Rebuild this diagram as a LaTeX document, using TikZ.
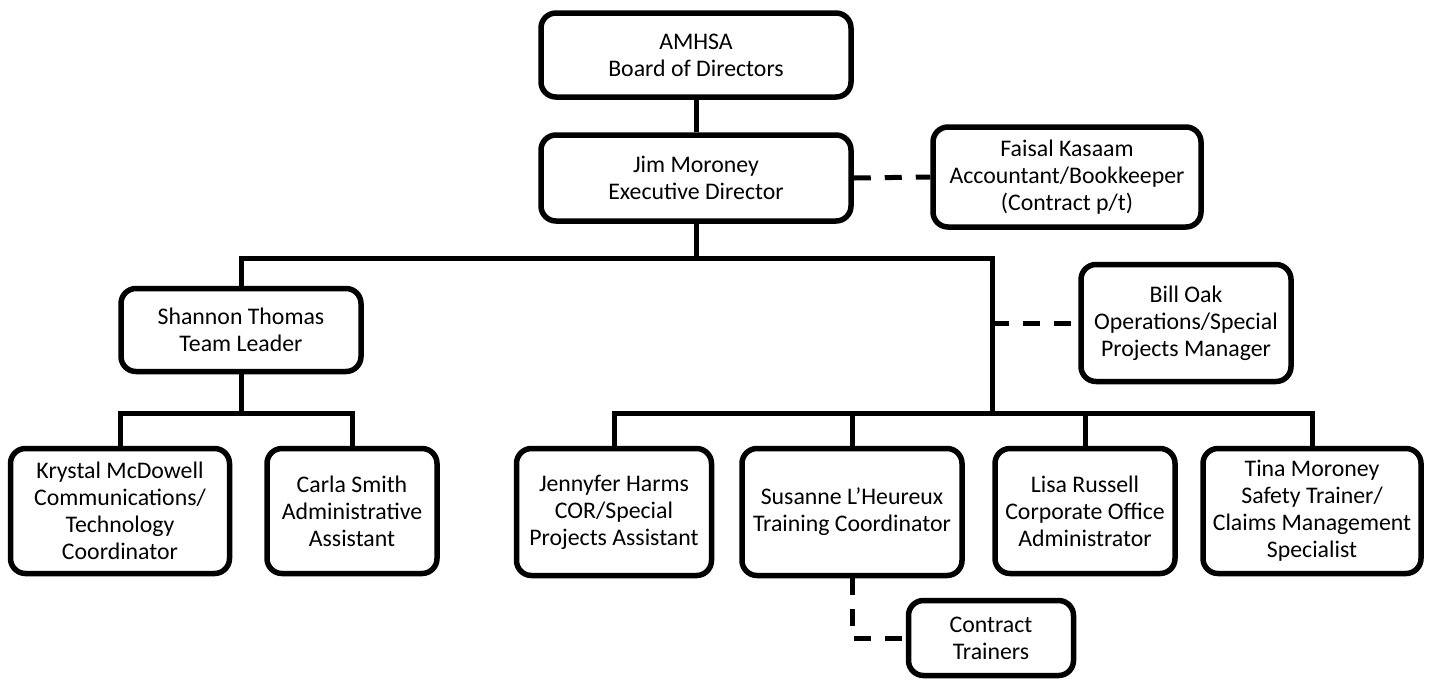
\documentclass[tikz,border=0pt]{standalone}
\usepackage{fontspec}
\setmainfont{Carlito}
\usepackage{tikz}
\usetikzlibrary{positioning,calc}

\begin{document}
\begin{tikzpicture}[
  x=1pt, y=-1pt,
  font=\fontsize{23.8}{27}\selectfont,
  block/.style={
    rectangle,
    rounded corners=15pt,
    draw=black,
    line width=5.5pt,
    fill=white,
    align=center,
    inner sep=2pt
  },
  link/.style={line width=5pt, black},
  dashlink/.style={line width=5pt, black, dash pattern=on 17pt off 14pt}
]
\useasboundingbox (0,0) rectangle (1432,681);

\node[block, minimum width=310pt, minimum height=84pt] (board) at (696,55)
  {AMHSA\\Board of Directors};
\node[block, minimum width=310pt, minimum height=86pt] (jim) at (696,178)
  {Jim Moroney\\Executive Director};
\node[block, minimum width=268pt, minimum height=100pt] (faisal) at (1067,177)
  {Faisal Kasaam\\Accountant/Bookkeeper\\(Contract p/t)};
\node[block, minimum width=240pt, minimum height=83pt] (shannon) at (241,330)
  {Shannon Thomas\\Team Leader};
\node[block, minimum width=210pt, minimum height=117pt] (bill) at (1186,323)
  {Bill Oak\\Operations/Special\\Projects Manager};

\node[block, minimum width=219pt, minimum height=125pt] (krystal) at (120,511)
  {Krystal McDowell\\Communications/\\Technology\\Coordinator};
\node[block, minimum width=170pt, minimum height=125pt] (carla) at (352,511)
  {Carla Smith\\Administrative\\Assistant};
\node[block, minimum width=195pt, minimum height=127pt] (jenny) at (614,512)
  {Jennyfer Harms\\COR/Special\\Projects Assistant};
\node[block, minimum width=220pt, minimum height=127pt] (susanne) at (852,512)
  {Susanne L'Heureux\\Training Coordinator};
\node[block, minimum width=180pt, minimum height=125pt] (lisa) at (1085,511)
  {Lisa Russell\\Corporate Office\\Administrator};
\node[block, minimum width=218pt, minimum height=125pt] (tina) at (1312,511)
  {Tina Moroney\\Safety Trainer/\\Claims Management\\Specialist};
\node[block, minimum width=165pt, minimum height=75pt] (trainers) at (991,638)
  {Contract\\Trainers};

\coordinate (topbar) at (696,258);
\coordinate (rbar) at (992,413);
\coordinate (lbar) at (238,413);

\draw[link] (board) -- (jim);
\draw[link] (jim) -- (topbar);
\draw[link] (shannon.north) |- (topbar) -| (rbar);
\draw[link] (shannon) -- (shannon.south |- lbar);
\draw[link] (krystal.north) |- (lbar) -| (carla.north);
\draw[link] (jenny.north) |- (rbar) -| (tina.north);
\draw[link] (susanne.north) -- (susanne.north |- rbar);
\draw[link] (lisa.north) -- (lisa.north |- rbar);

\draw[dashlink] (jim.east) -- (faisal.west);
\draw[dashlink] (rbar |- bill.west) -- (bill.west);
\draw[dashlink] (susanne.south) |- (trainers.west);

\end{tikzpicture}
\end{document}
